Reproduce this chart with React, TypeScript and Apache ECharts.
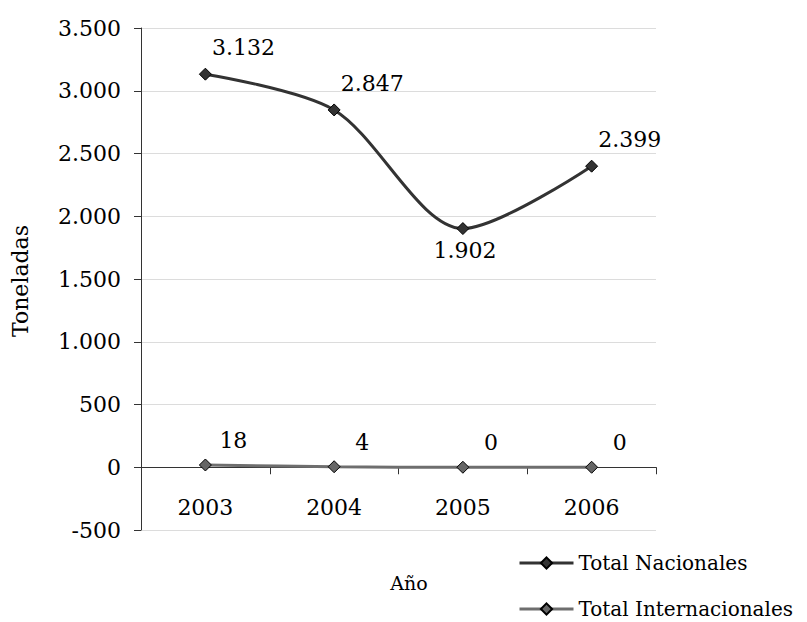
import React, { useEffect, useRef } from "react";
import * as echarts from "echarts";

const categories = ["2003", "2004", "2005", "2006"];
const nacionales = [3132, 2847, 1902, 2399];
const internacionales = [18, 4, 0, 0];
const seriesNames = ["Total Nacionales", "Total Internacionales"];
const yTitle = "Toneladas";
const xTitle = "Año";

const FONT = "DejaVu Serif";

function fmt(v: number): string {
  const neg = v < 0;
  const s = Math.abs(Math.round(v)).toString().replace(/\B(?=(\d{3})+(?!\d))/g, ".");
  return (neg ? "-" : "") + s;
}

export default function App() {
  const ref = useRef<HTMLDivElement>(null);
  useEffect(() => {
    if (!ref.current) return;
    const chart = echarts.init(ref.current, null, { renderer: "svg" });
    const natData = nacionales.map((v, i) => {
      const below = i > 0 && i < nacionales.length - 1 && v < nacionales[i - 1] && v < nacionales[i + 1];
      return {
        value: v,
        label: below
          ? { position: "bottom", offset: [2, -1] }
          : { position: "top", offset: [38, -4] },
      };
    });
    const legendCommon = {
      orient: "vertical",
      left: 513,
      padding: 5,
      itemWidth: 54,
      itemHeight: 14,
      lineStyle: { width: 3 },
      textStyle: { fontSize: 20, lineHeight: 20, color: "#000", fontFamily: FONT },
    };
    chart.setOption({
      animation: false,
      textStyle: { fontFamily: FONT },
      grid: { left: 141, top: 28, width: 515, height: 502, containLabel: false },
      xAxis: {
        type: "category",
        data: categories,
        boundaryGap: true,
        axisLine: { onZero: true, lineStyle: { color: "#333", width: 1 } },
        axisTick: { show: true, length: 7, inside: false, lineStyle: { color: "#333" } },
        axisLabel: { margin: -34, fontSize: 22, color: "#000", fontFamily: FONT },
        splitLine: { show: false },
      },
      yAxis: {
        type: "value",
        min: -500,
        max: 3500,
        interval: 500,
        axisLine: { show: true, lineStyle: { color: "#333", width: 1 } },
        axisTick: { show: true, length: 7, lineStyle: { color: "#333" } },
        axisLabel: { margin: 20, fontSize: 22, color: "#000", fontFamily: FONT, formatter: (v: number) => fmt(v) },
        splitLine: { show: true, lineStyle: { color: "#dcdcdc", width: 1 } },
      },
      legend: [
        { ...legendCommon, top: 548, data: [seriesNames[0]] },
        { ...legendCommon, top: 594, data: [seriesNames[1]] },
      ],
      graphic: [
        {
          type: "text",
          x: 20,
          y: 281,
          rotation: Math.PI / 2,
          style: { text: yTitle, font: `22px "${FONT}"`, fill: "#000", align: "center", verticalAlign: "middle" },
        },
        {
          type: "text",
          x: 409,
          y: 583,
          style: { text: xTitle, font: `19px "${FONT}"`, fill: "#000", align: "center", verticalAlign: "middle" },
        },
      ],
      series: [
        {
          name: seriesNames[0],
          type: "line",
          data: natData,
          smooth: 0.3,
          symbol: "diamond",
          symbolSize: 12,
          lineStyle: { color: "#333", width: 3 },
          itemStyle: { color: "#333", borderColor: "#000", borderWidth: 1 },
          label: { show: true, fontSize: 22, color: "#000", fontFamily: FONT, formatter: (p: any) => fmt(p.value) },
          z: 3,
        },
        {
          name: seriesNames[1],
          type: "line",
          data: internacionales,
          smooth: 0.3,
          symbol: "diamond",
          symbolSize: 12,
          lineStyle: { color: "#6e6e6e", width: 3 },
          itemStyle: { color: "#666", borderColor: "#000", borderWidth: 1 },
          label: { show: true, position: "top", offset: [28, -2], fontSize: 22, color: "#000", fontFamily: FONT, formatter: (p: any) => fmt(p.value) },
          z: 3,
        },
      ],
    });
    return () => chart.dispose();
  }, []);
  return <div ref={ref} style={{ position: "absolute", left: 0, top: 0, width: 807, height: 622 }} />;
}
